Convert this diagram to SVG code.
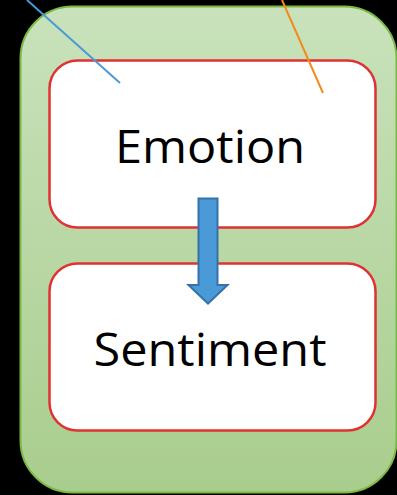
<svg xmlns="http://www.w3.org/2000/svg" width="397" height="495" viewBox="0 0 397 495">
<defs>
<linearGradient id="g" x1="0" y1="0" x2="0" y2="1">
<stop offset="0" stop-color="#c9e2bc"/>
<stop offset="1" stop-color="#a9cd8d"/>
</linearGradient>
<style>
.box{fill:#fff;stroke:#e03232;stroke-width:2.5}
.lbl{font-family:"Open Sans","Liberation Sans",sans-serif;font-size:46px;fill:#000;text-anchor:middle}
</style>
</defs>
<rect width="397" height="495" fill="#000"/>
<g id="container">
<rect x="20.5" y="6.5" width="376" height="486" rx="52" fill="url(#g)" stroke="#7cb844" stroke-width="2"/>
</g>
<g id="emotion">
<rect class="box" x="49.5" y="60.5" width="326" height="167" rx="28"/>
<text class="lbl" x="210" y="163" textLength="190" lengthAdjust="spacingAndGlyphs">Emotion</text>
</g>
<g id="sentiment">
<rect class="box" x="49.5" y="263.5" width="326" height="167" rx="28"/>
<text class="lbl" x="210" y="366" textLength="233" lengthAdjust="spacingAndGlyphs">Sentiment</text>
</g>
<g id="connectors">
<line x1="27" y1="0" x2="120" y2="83" stroke="#4a9ad8" stroke-width="2"/>
<line x1="282" y1="0" x2="323" y2="93" stroke="#f28a1e" stroke-width="2"/>
<path d="M198.5 198.5 H217.5 V285 H227.5 L208 303.5 L188.5 285 H198.5 Z" fill="#4a9ad8" stroke="#3572a8" stroke-width="2" stroke-linejoin="miter"/>
</g>
</svg>
